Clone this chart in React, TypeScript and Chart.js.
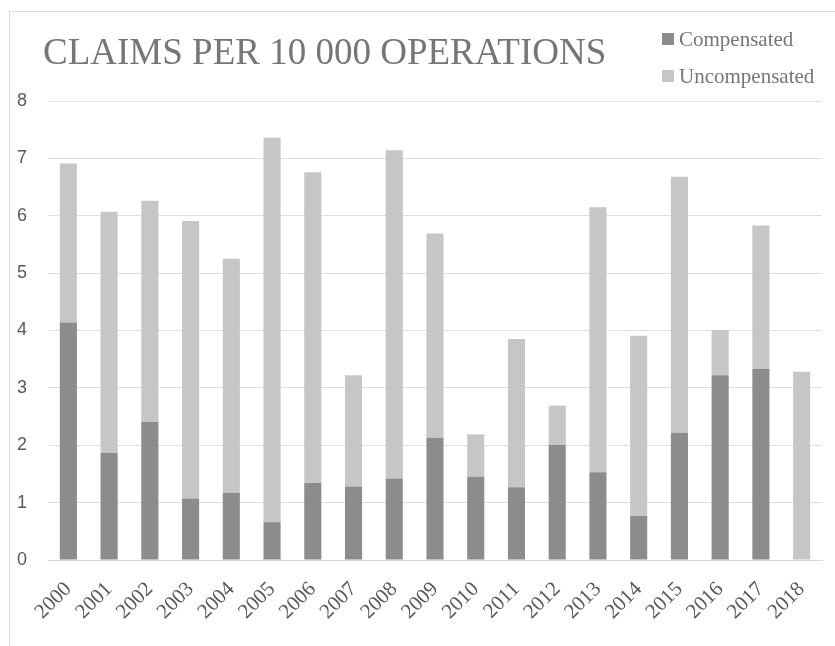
import React, { useEffect, useRef } from "react";
import { Chart, registerables } from "chart.js";

Chart.register(...registerables);

const TITLE = "CLAIMS PER 10 000 OPERATIONS";
const years = ["2000","2001","2002","2003","2004","2005","2006","2007","2008","2009","2010","2011","2012","2013","2014","2015","2016","2017","2018"];
const compensated = [4.14, 1.87, 2.41, 1.07, 1.17, 0.66, 1.34, 1.28, 1.42, 2.13, 1.45, 1.27, 2.01, 1.53, 0.77, 2.22, 3.22, 3.33, 0];
const uncompensated = [2.77, 4.20, 3.85, 4.84, 4.08, 6.70, 5.42, 1.94, 5.72, 3.56, 0.74, 2.58, 0.68, 4.62, 3.14, 4.46, 0.79, 2.50, 3.28];
const seriesNames = ["Compensated", "Uncompensated"];
const seriesColors = ["#8c8c8c", "#c5c6c5"];

const overlayPlugin = {
  id: "overlay",
  afterDraw(chart: any) {
    const ctx = chart.ctx;
    ctx.save();
    ctx.textBaseline = "alphabetic";
    ctx.textAlign = "left";
    ctx.fillStyle = "#767676";
    ctx.font = '37px "Liberation Serif"';
    ctx.fillText(TITLE, 43, 64);
    const baselines = [46, 83];
    chart.data.datasets.forEach((ds: any, i: number) => {
      const b = baselines[i];
      ctx.fillStyle = ds.backgroundColor;
      ctx.fillRect(662, b - 13, 12, 12);
      ctx.fillStyle = "#767676";
      ctx.font = '21px "Liberation Serif"';
      ctx.fillText(ds.label, 679, b);
    });
    ctx.restore();
  },
};

export default function App() {
  const ref = useRef<HTMLCanvasElement | null>(null);
  useEffect(() => {
    if (!ref.current) return;
    const chart = new Chart(ref.current, {
      type: "bar",
      data: {
        labels: years,
        datasets: [
          { label: seriesNames[0], data: compensated, backgroundColor: seriesColors[0], categoryPercentage: 1, barPercentage: 0.42 },
          { label: seriesNames[1], data: uncompensated, backgroundColor: seriesColors[1], categoryPercentage: 1, barPercentage: 0.42 },
        ],
      },
      options: {
        responsive: false,
        animation: false,
        layout: { padding: { top: 101, left: 8, right: 13, bottom: 0 } },
        plugins: {
          legend: { display: false },
          title: { display: false },
          tooltip: { enabled: false },
        },
        scales: {
          x: {
            stacked: true,
            grid: { display: false },
            border: { display: true, color: "#d9d9d9" },
            ticks: {
              minRotation: 45,
              maxRotation: 45,
              padding: 9,
              color: "#595959",
              font: { family: '"Liberation Serif"', size: 21 },
            },
            afterFit: (s: any) => { s.height = 86; },
          },
          y: {
            stacked: true,
            min: 0,
            max: 8,
            grid: { color: "#dedede", drawTicks: false },
            border: { display: false },
            ticks: {
              stepSize: 1,
              padding: 21,
              color: "#595959",
              font: { family: '"Liberation Sans"', size: 18 },
            },
            afterFit: (s: any) => { s.width = 40; },
          },
        },
      },
      plugins: [overlayPlugin],
    });
    return () => chart.destroy();
  }, []);
  return (
    <div style={{ position: "fixed", left: 0, top: 0, width: 835, height: 646, background: "#fff" }}>
      <div style={{ position: "absolute", left: 9, top: 11, width: 826, height: 635, borderLeft: "1px solid #d9d9d9", borderTop: "1px solid #d9d9d9", boxSizing: "border-box" }} />
      <canvas ref={ref} width={835} height={646} style={{ position: "absolute", left: 0, top: 0 }} />
    </div>
  );
}
